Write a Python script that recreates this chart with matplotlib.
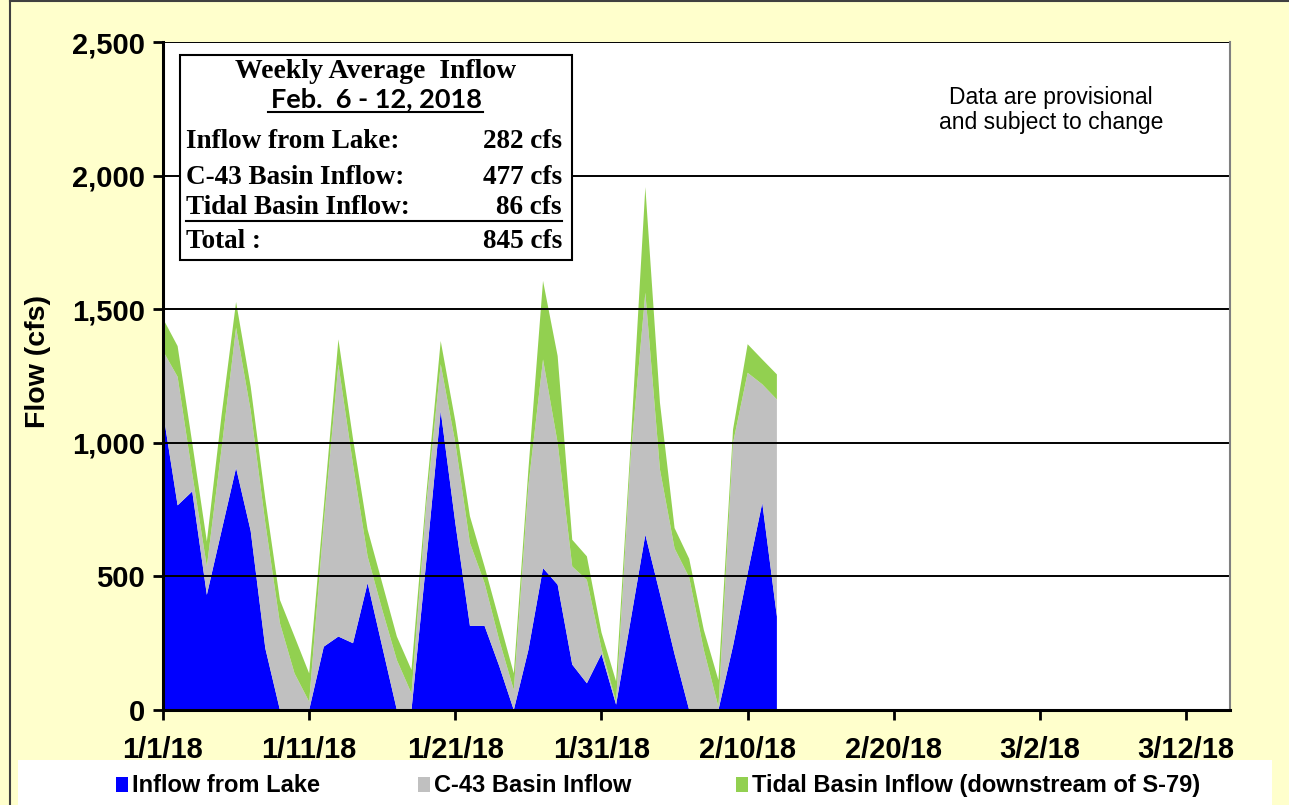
import matplotlib.pyplot as plt
import matplotlib.dates as mdates
from matplotlib.patches import Rectangle
from matplotlib.lines import Line2D
from matplotlib.ticker import FuncFormatter
import pandas as pd

# daily values, 1/1/18 .. 2/12/18 (cfs)
dates = pd.date_range('2018-01-01', '2018-02-12', freq='D')
lake = [1115, 766, 818, 431, 669, 906, 670, 231, 0, 0,
        0, 237, 275, 250, 475, 237, 0, 0, 550, 1119,
        700, 315, 315, 165, 0, 225, 531, 469, 170, 100,
        210, 20, 337, 656, 435, 209, 0, 0, 0, 240,
        512, 775, 350]
c43 = [229, 481, 67, 106, 306, 525, 450, 469, 325, 137,
       31, 463, 1019, 669, 100, 138, 187, 62, 210, 175,
       300, 310, 160, 97, 75, 615, 781, 531, 367, 387,
       20, 10, 613, 906, 465, 396, 496, 225, 12, 760,
       750, 444, 812]
tidal = [121, 115, 115, 94, 125, 96, 90, 90, 87, 138,
         106, 60, 93, 96, 100, 100, 88, 88, 40, 87,
         81, 100, 62, 75, 62, 60, 294, 325, 100, 88,
         60, 77, 50, 395, 250, 76, 70, 75, 100, 50,
         107, 93, 94]

series_names = ['Inflow from Lake', 'C-43 Basin Inflow',
                'Tidal Basin Inflow (downstream of S-79)']
colors = ['#0000FF', '#C0C0C0', '#92D050']

box_rows = [('Inflow from Lake:', '282 cfs'),
            ('C-43 Basin Inflow:', '477 cfs'),
            ('Tidal Basin Inflow:', '86 cfs'),
            ('Total :', '845 cfs')]

W, H = 1289, 805
bg = '#FFFFCC'


def fx(px):
    return px / W


def fy(py):
    return 1 - py / H


fig = plt.figure(figsize=(W / 100, H / 100), dpi=100, facecolor=bg)
ax = fig.add_axes([fx(163), fy(710), fx(1230) - fx(163), fy(42) - fy(710)])
ax.set_facecolor('white')

ax.stackplot(dates, lake, c43, tidal, colors=colors, linewidth=0)

ax.set_ylim(0, 2500)
ax.set_xlim(pd.Timestamp('2018-01-01'), pd.Timestamp('2018-03-15'))
ax.set_yticks(range(0, 2501, 500))
ax.yaxis.set_major_formatter(FuncFormatter(lambda v, p: f'{int(v):,}'))
ax.set_xticks(pd.date_range('2018-01-01', '2018-03-12', freq='10D'))
ax.xaxis.set_major_formatter(FuncFormatter(
    lambda v, p: (lambda d: f'{d.month}/{d.day}/{d:%y}')(mdates.num2date(v))))

ax.grid(axis='y', color='black', linewidth=1.4)
for gl in ax.get_ygridlines():
    gl.set_zorder(0.5)

for s in ['left', 'bottom']:
    ax.spines[s].set_linewidth(2.2)
    ax.spines[s].set_color('black')
ax.spines['right'].set_color('#808080')
ax.spines['right'].set_linewidth(1.5)
ax.spines['top'].set_visible(False)

ax.tick_params(axis='both', direction='out', length=7, width=2, labelsize=21)
ax.tick_params(axis='x', pad=12)
ax.tick_params(axis='y', pad=6)
for lab in ax.get_xticklabels() + ax.get_yticklabels():
    lab.set_fontweight('bold')
    lab.set_family('Liberation Sans')

ax.set_ylabel('Flow (cfs)', fontsize=20.5, fontweight='bold', family='Liberation Sans')
ax.yaxis.set_label_coords(-0.105, 0.521)

# provisional note
fig.text(fx(1051), fy(110), 'Data are provisional\nand subject to change', ha='center', va='center',
         fontsize=16.5, family='Liberation Sans', linespacing=1.15)

# summary box
fig.patches.append(Rectangle((fx(180), fy(260)), fx(572) - fx(180), fy(55) - fy(260),
                             transform=fig.transFigure, facecolor='white', edgecolor='black',
                             linewidth=1.5, zorder=5))
fig.text(fx(376), fy(72), 'Weekly Average  Inflow', ha='center', va='center', fontsize=20,
         fontweight='bold', family='Liberation Serif', zorder=6)
fig.text(fx(376), fy(99), 'Feb.  6 - 12, 2018', ha='center', va='center', fontsize=19.5,
         fontweight='bold', family='Lato', zorder=6)
fig.lines.append(Line2D([fx(268), fx(483)], [fy(112), fy(112)], transform=fig.transFigure,
                        color='black', linewidth=1.5, zorder=6))
row_y = [141, 177, 208, 242]
for (lab, val), yy in zip(box_rows, row_y):
    fig.text(fx(186), fy(yy), lab, ha='left', va='center', fontsize=19.5,
             fontweight='bold', family='Liberation Serif', zorder=6)
    fig.text(fx(562), fy(yy), val, ha='right', va='center', fontsize=19.5,
             fontweight='bold', family='Liberation Serif', zorder=6)
fig.lines.append(Line2D([fx(186), fx(562)], [fy(221), fy(221)], transform=fig.transFigure,
                        color='black', linewidth=1.5, zorder=6))

# legend band, drawn by hand to match positions
fig.patches.append(Rectangle((fx(18), 0), fx(1272) - fx(18), fy(760), transform=fig.transFigure,
                             facecolor='white', edgecolor='none', zorder=1))
legend_x = [116, 418, 736]
for name, col, lx in zip(series_names, colors, legend_x):
    fig.patches.append(Rectangle((fx(lx), fy(792)), fx(12), 15 / H, transform=fig.transFigure,
                                 facecolor=col, edgecolor='none', zorder=2))
    fig.text(fx(lx + 16), fy(785), name, ha='left', va='center', fontsize=17,
             fontweight='bold', family='Liberation Sans', zorder=2)

# outer frame
fig.lines.append(Line2D([fx(10), fx(10)], [0, 1], transform=fig.transFigure, color='#404040', linewidth=1.5))
fig.lines.append(Line2D([fx(10), 1], [fy(1), fy(1)], transform=fig.transFigure, color='#404040', linewidth=1.5))

fig.savefig('out.png', dpi=100, facecolor=bg)
